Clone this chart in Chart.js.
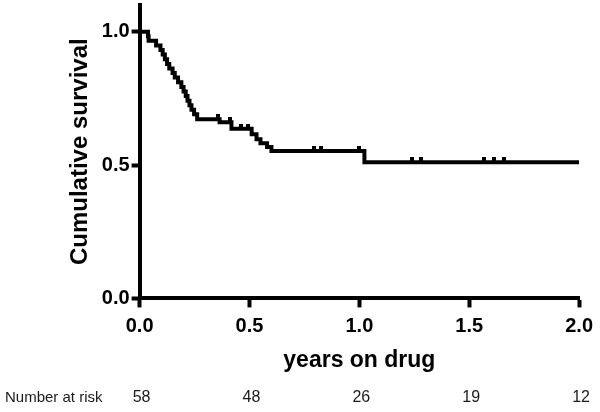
<!DOCTYPE html>
<html><head><meta charset="utf-8">
<script src="https://cdn.jsdelivr.net/npm/chart.js@4.4.0/dist/chart.umd.min.js"></script>
<style>html,body{margin:0;padding:0;background:#fff;}</style>
</head><body>
<canvas id="c" width="600" height="412"></canvas>
<script>
// Kaplan-Meier step data (time in years, cumulative survival)
const eventTimes = [0, 0.038, 0.041, 0.075, 0.095, 0.105, 0.115, 0.125, 0.135, 0.15, 0.16, 0.175, 0.19, 0.2, 0.21, 0.218, 0.227, 0.236, 0.248, 0.262, 0.364, 0.418, 0.51, 0.532, 0.55, 0.58, 0.60, 1.023, 2.0];
const survival   = [1.0, 0.983, 0.966, 0.948, 0.931, 0.914, 0.897, 0.879, 0.862, 0.845, 0.828, 0.810, 0.793, 0.776, 0.759, 0.741, 0.724, 0.707, 0.690, 0.672, 0.660, 0.636, 0.615, 0.597, 0.582, 0.568, 0.553, 0.510, 0.510];
const censorTimes = [0.355, 0.41, 0.46, 0.495, 0.795, 0.827, 1.0, 1.24, 1.28, 1.568, 1.614, 1.66];
const xTicks = [0, 0.5, 1.0, 1.5, 2.0];
const yTicks = [0, 0.5, 1.0];
const riskTimes = [0, 0.5, 1.0, 1.5, 2.0];
const numberAtRisk = [58, 48, 26, 19, 12];

function survivalAt(t) {
  let s = survival[0];
  for (let i = 0; i < eventTimes.length; i++) { if (eventTimes[i] <= t) s = survival[i]; }
  return s;
}

const curve = eventTimes.map((t, i) => ({x: t, y: survival[i]}));
const censors = censorTimes.map(t => ({x: t, y: survivalAt(t)}));

// censor mark: small vertical tick sitting on top of the line
const mark = document.createElement('canvas');
mark.width = 4; mark.height = 10;
const mctx = mark.getContext('2d');
mctx.fillStyle = '#000';
mctx.fillRect(0, 0, 4, 5);

const FONT = '"Liberation Sans", Arial, sans-serif';

const riskPlugin = {
  id: 'risk',
  afterDraw(chart) {
    const ctx = chart.ctx;
    const xs = chart.scales.x;
    ctx.save();
    ctx.fillStyle = '#1a1a1a';
    ctx.textBaseline = 'middle';
    ctx.textAlign = 'left';
    ctx.font = '15px ' + FONT;
    ctx.fillText('Number at risk', 5, 398);
    ctx.textAlign = 'center';
    ctx.font = '16px ' + FONT;
    riskTimes.forEach((t, i) => {
      ctx.fillText(String(numberAtRisk[i]), xs.getPixelForValue(t) + 2, 398);
    });
    ctx.restore();
  }
};

function noEdgePad(axis) { axis.paddingTop = 0; axis.paddingBottom = 0; }

new Chart(document.getElementById('c'), {
  type: 'scatter',
  data: {
    datasets: [
      {
        data: curve, showLine: true, stepped: true, borderColor: '#000', borderWidth: 4,
        pointRadius: 0, fill: false, tension: 0, borderCapStyle: 'butt', borderJoinStyle: 'miter'
      },
      {
        data: censors, showLine: false, pointStyle: mark, pointRadius: 3,
        borderColor: '#000', backgroundColor: '#000'
      }
    ]
  },
  options: {
    responsive: false, animation: false, devicePixelRatio: 1,
    layout: { padding: { left: 66, right: 18, top: 4, bottom: 38 } },
    plugins: { legend: { display: false }, tooltip: { enabled: false } },
    scales: {
      x: {
        type: 'linear', min: 0, max: 2,
        afterBuildTicks: (axis) => { axis.ticks = xTicks.map(v => ({value: v})); },
        ticks: { color: '#000', font: { family: FONT, size: 20, weight: 'bold' }, padding: 7,
                 callback: v => Number(v).toFixed(1), maxRotation: 0 },
        grid: { drawOnChartArea: false, drawTicks: true, tickLength: 9, tickWidth: 4, tickColor: '#000' },
        border: { display: true, width: 4, color: '#000' },
        title: { display: true, text: 'years on drug', color: '#000',
                 font: { family: FONT, size: 23, weight: 'bold' }, padding: { top: 1, bottom: 0 } }
      },
      y: {
        type: 'linear', min: 0, max: 1.1,
        afterBuildTicks: (axis) => { axis.ticks = yTicks.map(v => ({value: v})); },
        afterFit: noEdgePad,
        ticks: { color: '#000', font: { family: FONT, size: 20, weight: 'bold' }, padding: 2,
                 callback: v => Number(v).toFixed(1) },
        grid: { drawOnChartArea: false, drawTicks: true, tickLength: 8, tickWidth: 4, tickColor: '#000' },
        border: { display: true, width: 4, color: '#000' },
        title: { display: true, text: 'Cumulative survival', color: '#000',
                 font: { family: FONT, size: 24, weight: 'bold' }, padding: { top: 0, bottom: 5 } }
      }
    }
  },
  plugins: [riskPlugin]
});
</script>
</body></html>
